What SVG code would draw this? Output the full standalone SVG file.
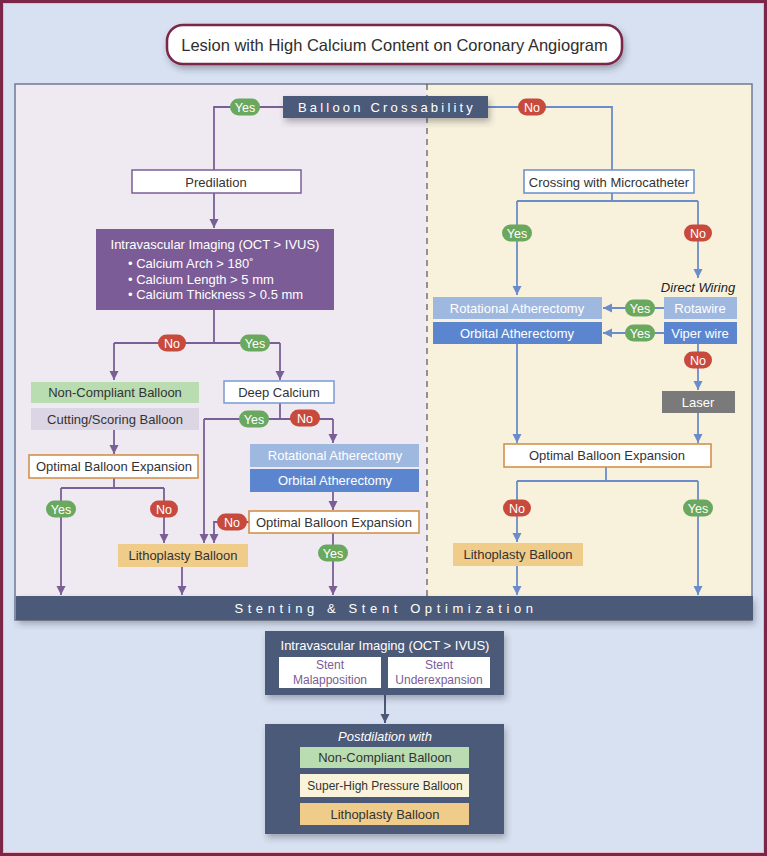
<svg xmlns="http://www.w3.org/2000/svg" width="767" height="856" viewBox="0 0 767 856">
<defs>
<filter id="sh" x="-10%" y="-30%" width="130%" height="180%"><feDropShadow dx="2" dy="4" stdDeviation="3" flood-color="#334" flood-opacity="0.35"/></filter>
<marker id="ap" viewBox="0 0 10 10" markerWidth="9" markerHeight="10" refX="10" refY="5" orient="auto" markerUnits="userSpaceOnUse"><path d="M0,0 L10,5 L0,10 z" fill="#7a5f96"/></marker>
<marker id="ab" viewBox="0 0 10 10" markerWidth="9" markerHeight="10" refX="10" refY="5" orient="auto" markerUnits="userSpaceOnUse"><path d="M0,0 L10,5 L0,10 z" fill="#6a8ccc"/></marker>
<marker id="ad" viewBox="0 0 10 10" markerWidth="9" markerHeight="10" refX="10" refY="5" orient="auto" markerUnits="userSpaceOnUse"><path d="M0,0 L10,5 L0,10 z" fill="#4b5a78"/></marker>
</defs>
<style>
text{font-family:"Liberation Sans",Arial,sans-serif;font-size:13px;text-anchor:middle;fill:#333}
.w{fill:#fff}
.pl{fill:none;stroke:#7a5f96;stroke-width:1.8}
.bl{fill:none;stroke:#6a8ccc;stroke-width:1.8}
.yes{fill:#6aa860}
.no{fill:#c84a3c}
.pt{fill:#fff;font-size:12.5px}
.sp{letter-spacing:4.6px;font-size:13px;fill:#fff}
.st{fill:#7b5c96;font-size:12px}
</style>
<rect x="1.5" y="1.5" width="764" height="853" fill="#d8e1f1" stroke="#7b2646" stroke-width="3"/>
<rect x="3.5" y="3.5" width="760" height="849" fill="none" stroke="#e8b8c8" stroke-width="1"/>

<g id="title">
<rect x="167" y="25" width="455" height="39" rx="16" fill="#fff" stroke="#7b2646" stroke-width="2.5" filter="url(#sh)"/>
<text x="394.5" y="51" style="font-size:16.5px;fill:#2e2e2e">Lesion with High Calcium Content on Coronary Angiogram</text>
</g>

<g id="panel">
<rect x="15" y="84" width="412" height="512" fill="#efe9f1"/>
<rect x="427" y="84" width="325" height="512" fill="#f8f1dc"/>
<rect x="15" y="84" width="737" height="536" fill="none" stroke="#6e7b94" stroke-width="1.5"/>
<line x1="427" y1="84" x2="427" y2="596" stroke="#555" stroke-width="1.2" stroke-dasharray="6,5"/>
</g>

<g id="connectors">
<path class="pl" d="M283,107 H214 V170"/>
<path class="pl" d="M214,193 V228" marker-end="url(#ap)"/>
<path class="pl" d="M214,310 V343 M114,343 H280"/>
<path class="pl" d="M114,343 V380" marker-end="url(#ap)"/>
<path class="pl" d="M280,343 V380" marker-end="url(#ap)"/>
<path class="pl" d="M114,430 V454" marker-end="url(#ap)"/>
<path class="pl" d="M114,478 V488 M61,488 H164"/>
<path class="pl" d="M61,488 V595" marker-end="url(#ap)"/>
<path class="pl" d="M164,488 V543" marker-end="url(#ap)"/>
<path class="pl" d="M182,567 V595" marker-end="url(#ap)"/>
<path class="pl" d="M280,403 V419 M204,419 H333"/>
<path class="pl" d="M204,419 V543" marker-end="url(#ap)"/>
<path class="pl" d="M333,419 V443" marker-end="url(#ap)"/>
<path class="pl" d="M333,492 V510" marker-end="url(#ap)"/>
<path class="pl" d="M249,522 H214 V543" marker-end="url(#ap)"/>
<path class="pl" d="M333,533 V595" marker-end="url(#ap)"/>
<path class="bl" d="M488,107 H612 V170"/>
<path class="bl" d="M612,193 V201 M517,201 H698"/>
<path class="bl" d="M517,201 V295" marker-end="url(#ab)"/>
<path class="bl" d="M698,201 V278" marker-end="url(#ab)"/>
<path class="bl" d="M664,308 H603" marker-end="url(#ab)"/>
<path class="bl" d="M664,333 H603" marker-end="url(#ab)"/>
<path class="bl" d="M698,344 V390" marker-end="url(#ab)"/>
<path class="bl" d="M517,344 V443" marker-end="url(#ab)"/>
<path class="bl" d="M698,413 V443" marker-end="url(#ab)"/>
<path class="bl" d="M606,467 V481 M517,481 H698"/>
<path class="bl" d="M517,481 V542" marker-end="url(#ab)"/>
<path class="bl" d="M698,481 V595" marker-end="url(#ab)"/>
<path class="bl" d="M517,566 V595" marker-end="url(#ab)"/>
<path d="M385,695 V723" fill="none" stroke="#4b5a78" stroke-width="2" marker-end="url(#ad)"/>
<g id="pills">
<rect class="yes" x="230" y="98.5" width="30" height="17" rx="8.5"/><text class="pt" x="245" y="111.5">Yes</text>
<rect class="no" x="518" y="98.5" width="28" height="17" rx="8.5"/><text class="pt" x="532" y="111.5">No</text>
<rect class="no" x="158" y="334.5" width="28" height="17" rx="8.5"/><text class="pt" x="172" y="347.5">No</text>
<rect class="yes" x="240" y="334.5" width="30" height="17" rx="8.5"/><text class="pt" x="255" y="347.5">Yes</text>
<rect class="yes" x="46" y="500.5" width="30" height="17" rx="8.5"/><text class="pt" x="61" y="513.5">Yes</text>
<rect class="no" x="150" y="500.5" width="28" height="17" rx="8.5"/><text class="pt" x="164" y="513.5">No</text>
<rect class="yes" x="239" y="410.5" width="30" height="17" rx="8.5"/><text class="pt" x="254" y="423.5">Yes</text>
<rect class="no" x="290" y="409.5" width="30" height="17" rx="8.5"/><text class="pt" x="305" y="422.5">No</text>
<rect class="no" x="217" y="513.5" width="30" height="17" rx="8.5"/><text class="pt" x="232" y="526.5">No</text>
<rect class="yes" x="318" y="544.5" width="30" height="17" rx="8.5"/><text class="pt" x="333" y="557.5">Yes</text>
<rect class="yes" x="502" y="224.5" width="30" height="17" rx="8.5"/><text class="pt" x="517" y="237.5">Yes</text>
<rect class="no" x="684" y="224.5" width="28" height="17" rx="8.5"/><text class="pt" x="698" y="237.5">No</text>
<rect class="yes" x="625" y="299.5" width="30" height="17" rx="8.5"/><text class="pt" x="640" y="312.5">Yes</text>
<rect class="yes" x="625" y="324.5" width="30" height="17" rx="8.5"/><text class="pt" x="640" y="337.5">Yes</text>
<rect class="no" x="684" y="351.5" width="28" height="17" rx="8.5"/><text class="pt" x="698" y="364.5">No</text>
<rect class="no" x="503" y="499.5" width="28" height="17" rx="8.5"/><text class="pt" x="517" y="512.5">No</text>
<rect class="yes" x="683" y="499.5" width="30" height="17" rx="8.5"/><text class="pt" x="698" y="512.5">Yes</text>
</g>
</g>

<g id="crossability">
<rect x="283" y="96" width="205" height="22" fill="#4b5a78" filter="url(#sh)"/>
<text x="387" y="112" style="letter-spacing:3.2px;fill:#fff">Balloon Crossability</text>
</g>

<g id="predilation">
<rect x="132" y="170" width="169" height="23" fill="#fff" stroke="#7a5f96" stroke-width="1.5"/>
<text x="216" y="186.5">Predilation</text>
</g>

<g id="imaging1">
<rect x="96" y="229" width="238" height="81" fill="#7b5c96"/>
<text class="w" x="215" y="249">Intravascular Imaging (OCT &gt; IVUS)</text>
<text class="w" x="128" y="268" style="text-anchor:start">• Calcium Arch &gt; 180˚</text>
<text class="w" x="128" y="284" style="text-anchor:start">• Calcium Length &gt; 5 mm</text>
<text class="w" x="128" y="299" style="text-anchor:start">• Calcium Thickness &gt; 0.5 mm</text>
</g>

<g id="noncompliant1">
<rect x="31" y="382" width="168" height="21" fill="#b9dcb0"/>
<text x="115" y="397">Non-Compliant Balloon</text>
</g>
<g id="cutting">
<rect x="31" y="408" width="168" height="22" fill="#dcd5e3"/>
<text x="115" y="423.5">Cutting/Scoring Balloon</text>
</g>
<g id="optimal1">
<rect x="29" y="455" width="169" height="23" fill="#fff" stroke="#d08a40" stroke-width="1.5"/>
<text x="114" y="471">Optimal Balloon Expansion</text>
</g>
<g id="litho1">
<rect x="118" y="544" width="130" height="23" fill="#f0cc8a"/>
<text x="183" y="560">Lithoplasty Balloon</text>
</g>
<g id="deepcalcium">
<rect x="224" y="381" width="110" height="22" fill="#fff" stroke="#7a9ad0" stroke-width="1.5"/>
<text x="279" y="396.5">Deep Calcium</text>
</g>
<g id="rota1">
<rect x="250" y="444" width="169" height="23" fill="#9fb8e0"/>
<text class="w" x="335" y="460">Rotational Atherectomy</text>
</g>
<g id="orbital1">
<rect x="250" y="469" width="169" height="23" fill="#5b86cf"/>
<text class="w" x="335" y="485">Orbital Atherectomy</text>
</g>
<g id="optimal2">
<rect x="249" y="511" width="170" height="22" fill="#fff" stroke="#d08a40" stroke-width="1.5"/>
<text x="334" y="526.5">Optimal Balloon Expansion</text>
</g>

<g id="microcatheter">
<rect x="524" y="170" width="170" height="23" fill="#fff" stroke="#6a8ccc" stroke-width="1.5"/>
<text x="609" y="186.5">Crossing with Microcatheter</text>
</g>
<g id="directwiring">
<text x="698" y="292" style="font-style:italic;fill:#222">Direct Wiring</text>
</g>
<g id="rota2">
<rect x="433" y="297" width="169" height="22" fill="#9fb8e0"/>
<text class="w" x="517" y="312.5">Rotational Atherectomy</text>
</g>
<g id="orbital2">
<rect x="433" y="322" width="169" height="22" fill="#5b86cf"/>
<text class="w" x="517" y="337.5">Orbital Atherectomy</text>
</g>
<g id="rotawire">
<rect x="664" y="297" width="73" height="22" fill="#9fb8e0"/>
<text class="w" x="700" y="312.5">Rotawire</text>
</g>
<g id="viperwire">
<rect x="664" y="322" width="73" height="22" fill="#5b86cf"/>
<text class="w" x="700" y="337.5">Viper wire</text>
</g>
<g id="laser">
<rect x="662" y="391" width="73" height="22" fill="#7a7a7a"/>
<text class="w" x="698" y="406.5">Laser</text>
</g>
<g id="optimal3">
<rect x="504" y="444" width="207" height="23" fill="#fff" stroke="#d08a40" stroke-width="1.5"/>
<text x="607" y="460">Optimal Balloon Expansion</text>
</g>
<g id="litho2">
<rect x="453" y="543" width="130" height="23" fill="#f0cc8a"/>
<text x="518" y="559">Lithoplasty Balloon</text>
</g>

<g id="stenting">
<rect x="16" y="596" width="737" height="24" fill="#4b5a78" filter="url(#sh)"/>
<text class="sp" x="386" y="613">Stenting &amp; Stent Optimization</text>
</g>

<g id="imaging2">
<rect x="265" y="631" width="239" height="64" fill="#4b5a78" filter="url(#sh)"/>
<text class="w" x="385" y="650">Intravascular Imaging (OCT &gt; IVUS)</text>
<rect x="279" y="657" width="102" height="31" fill="#fff"/>
<rect x="388" y="657" width="102" height="31" fill="#fff"/>
<text class="st" x="330" y="669">Stent</text>
<text class="st" x="330" y="684">Malapposition</text>
<text class="st" x="439" y="669">Stent</text>
<text class="st" x="439" y="684">Underexpansion</text>
</g>

<g id="postdilation">
<rect x="265" y="724" width="239" height="110" fill="#4b5a78" filter="url(#sh)"/>
<text class="w" x="385" y="741" style="font-style:italic">Postdilation with</text>
<rect x="300" y="747" width="169" height="21" fill="#b9dcb0"/>
<text x="385" y="762">Non-Compliant Balloon</text>
<rect x="300" y="774" width="169" height="23" fill="#faf3dc"/>
<text x="385" y="790" style="font-size:12px">Super-High Pressure Balloon</text>
<rect x="300" y="803" width="169" height="22" fill="#f0cc8a"/>
<text x="385" y="818.5">Lithoplasty Balloon</text>
</g>
</svg>
